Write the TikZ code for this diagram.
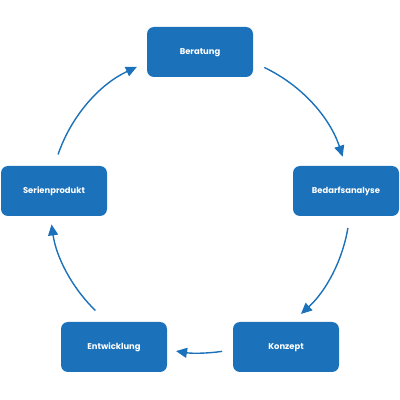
\documentclass[tikz,border=0pt]{standalone}
\usepackage{fontspec}
\setmainfont{Poppins}
\usetikzlibrary{arrows.meta,calc}
\definecolor{boxblue}{HTML}{1B71BA}
\begin{document}
\begin{tikzpicture}[x=1pt,y=1pt,
  stage/.style={fill=boxblue, rounded corners=7pt, minimum width=106pt, minimum height=50pt,
    text=white, font=\fontsize{8.4}{10}\selectfont\bfseries, inner sep=0pt,
    text height=5pt, text depth=0pt},
  flow/.style={draw=boxblue, line width=1.4pt, -{Triangle[length=11pt,width=10pt]}}]
\useasboundingbox (0,0) rectangle (400,400);
\node[stage] (ber) at (200,348) {Beratung};
\node[stage] (bed) at (346,209) {Bedarfsanalyse};
\node[stage] (kon) at (286,53) {Konzept};
\node[stage] (ent) at (114,53) {Entwicklung};
\node[stage] (ser) at (54,209) {Serienprodukt};
\coordinate (c) at (200,197);
\coordinate (a1) at ($(c)+(64.6:150)$);
\coordinate (a2) at ($(c)+(-9.6:150)$);
\coordinate (a3) at ($(c)+(-81.5:150)$);
\coordinate (a4) at ($(c)+(225.8:150)$);
\coordinate (a5) at ($(c)+(161.1:150)$);
\draw[flow] (a1) arc[start angle=64.6, end angle=18, radius=150];
\draw[flow] (a2) arc[start angle=-9.6, end angle=-47.7, radius=150];
\draw[flow] (a3) arc[start angle=-81.5, end angle=-99.2, radius=150];
\draw[flow] (a4) arc[start angle=225.8, end angle=188.2, radius=150];
\draw[flow] (a5) arc[start angle=161.1, end angle=114.9, radius=150];
\end{tikzpicture}
\end{document}
